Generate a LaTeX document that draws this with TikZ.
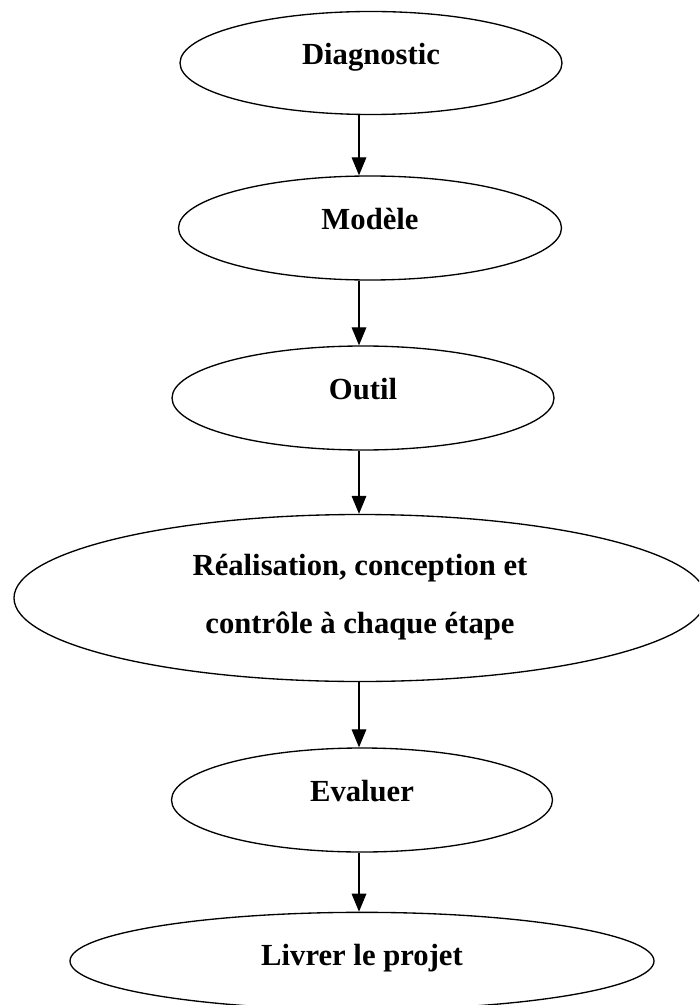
\documentclass[tikz,border=0pt]{standalone}
\usepackage{fontspec}
\setmainfont{Liberation Serif}
\usetikzlibrary{shapes.geometric,arrows.meta}
\tikzset{
  stage/.style 2 args={draw, ellipse, inner sep=0pt, line width=1pt, minimum width=#1, minimum height=#2},
  caption/.style={anchor=base, align=center, font=\bfseries\fontsize{23}{43}\selectfont},
  flow/.style={-{Triangle[length=13.5pt,width=11pt]}, line width=0.9pt}
}
\begin{document}
\begin{tikzpicture}[x=0.75pt, y=-0.75pt]
  \clip (0,0) rectangle (699,1005);
  % ellipses
  \node[stage={286.5pt}{77.25pt}] (diag) at (371,63) {};
  \node[stage={287.25pt}{78pt}] (mod) at (370,228) {};
  \node[stage={286.5pt}{78pt}] (outil) at (363,398) {};
  \node[stage={519pt}{125.25pt}] (real) at (360,598) {};
  \node[stage={285.75pt}{78pt}] (eval) at (362,800) {};
  \node[stage={438pt}{73pt}] (livr) at (362,961) {};
  % texts
  \node[caption] (diagtxt) at (371,65) {Diagnostic};
  \node[caption] (modtxt) at (370,230) {Modèle};
  \node[caption] (outiltxt) at (363,399) {Outil};
  \node[caption] (realtxt) at (360,633) {Réalisation, conception et\\contrôle à chaque étape};
  \node[caption] (evaltxt) at (362,801) {Evaluer};
  \node[caption] (livrtxt) at (362,965) {Livrer le projet};
  % arrows
  \coordinate (axis) at (359,0);
  \draw[flow] (diag.south -| axis) -- (mod.north -| axis);
  \draw[flow] (mod.south -| axis) -- (outil.north -| axis);
  \draw[flow] (outil.south -| axis) -- (real.north -| axis);
  \draw[flow] (real.south -| axis) -- (eval.north -| axis);
  \draw[flow] (eval.south -| axis) -- (livr.north -| axis);
\end{tikzpicture}
\end{document}
